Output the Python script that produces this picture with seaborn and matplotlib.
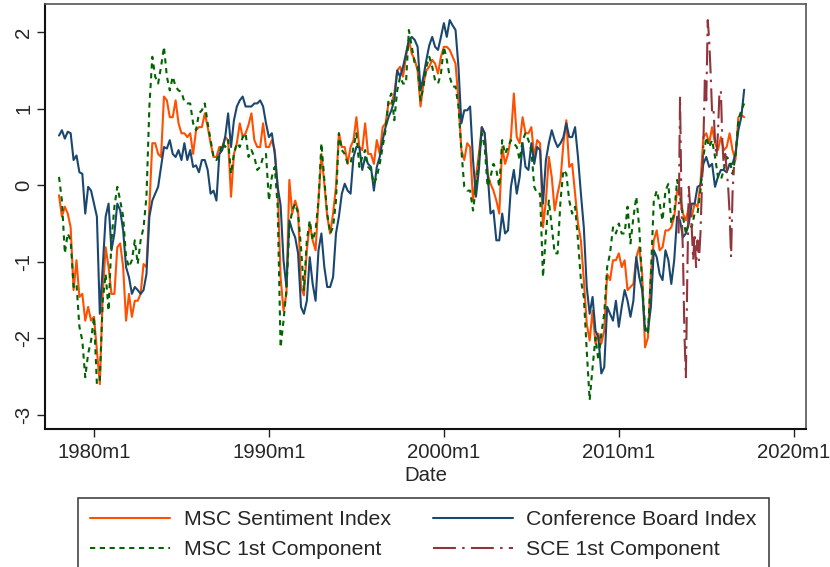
import numpy as np
import pandas as pd
import matplotlib
matplotlib.use("Agg")
import matplotlib.pyplot as plt
import seaborn as sns

# ==========================================
# DATA (every 2nd month from 1978m1)
# ==========================================
START_YEAR = 1978.0
STEP = 2 / 12

msc_sentiment = [
    -0.13, -0.41, -0.28, -0.37, -0.55, -1.37, -0.98, -1.46, -1.42, -1.77, -1.59, -1.77,
    -1.72, -2.16, -2.6, -1.42, -0.81, -1.07, -1.42, -1.42, -0.81, -0.76, -1.07, -1.77,
    -1.42, -1.72, -1.51, -1.51, -1.42, -1.03, -1.07, -0.28, 0.55, 0.55, 0.41, 0.37,
    1.16, 1.11, 0.89, 0.89, 1.11, 0.81,
    0.68, 0.68, 0.63, 0.68, 0.41, 0.72, 0.76, 0.76, 0.94, 0.76, 0.55, 0.37,
    0.37, 0.5, 0.5, 0.63, 0.59, -0.15, 0.41, 0.55, 0.81, 0.63, 0.68, 0.79,
    0.94, 0.59, 0.5, 0.5, 0.81, 0.5, 0.5, 0.59, 0.46, -0.02, -1.2, -1.64,
    -1.42, 0.07, -0.37, -0.2, -0.33, -1.33,
    -1.44, -0.85, -0.5, -0.72, -0.85, -0.2, 0.41, 0.02, -0.41, -0.63, -0.37, -0.02,
    0.68, 0.5, 0.5, 0.28, 0.5, 0.59, 0.89, 0.5, 0.46, 0.81, 0.41, 0.41,
    0.28, 0.59, 0.41, 0.76, 0.81, 1.07, 1.07, 1.2, 1.5, 1.55, 1.42, 1.68,
    1.9, 1.72, 1.64, 1.5,
    1.03, 1.33, 1.5, 1.55, 1.64, 1.59, 1.46, 1.68, 1.81, 1.81, 1.77, 1.68,
    1.59, 1.11, 0.46, 0.33, 0.55, 0.5, -0.2, 0.11, 0.41, 0.76, 0.68, 0.15,
    0.02, -0.07, -0.2, -0.37, 0.5, 0.28, 0.41, 0.63, 1.2, 0.63, 0.55, 0.89,
    0.68, 0.68, 0.76, 0.37, 0.59, 0.55,
    -0.55, -0.2, 0.37, 0.11, -0.33, -0.11, 0.07, 0.55, 0.85, 0.24, 0.28, -0.11,
    -0.5, -0.72, -1.24, -1.81, -2.03, -1.64, -2.07, -1.94, -2.07, -1.9, -1.16, -1.24,
    -0.98, -0.98, -0.89, -1.07, -0.98, -1.37, -1.33, -1.29, -0.94, -0.81, -1.16, -2.12,
    -1.99, -1.16, -0.72, -0.59,
    -0.85, -0.81, -0.59, -0.59, -0.55, -0.41, -0.07, -0.11, -0.37, -0.46, -0.28, -0.41,
    -0.24, -0.28, 0.02, 0.63, 0.68, 0.55, 0.76, 0.55, 0.46, 0.63, 0.46, 0.5,
    0.68, 0.46, 0.33, 0.89, 0.92, 0.89,
]

conf_board = [
    0.65, 0.72, 0.61, 0.70, 0.68, 0.33, 0.39, 0.17, 0.15, -0.37, -0.02, -0.07,
    -0.24, -0.41, -1.68, -1.07, -0.41, -0.24, -0.85, -0.63, -0.24, -0.33, -0.59, -1.07,
    -1.2, -1.42, -1.33, -1.37, -1.42, -1.37, -1.16, -0.41, -0.2, -0.11, -0.02, 0.24,
    0.5, 0.48, 0.59, 0.41, 0.37, 0.46,
    0.33, 0.55, 0.33, 0.46, 0.24, 0.26, 0.17, 0.33, 0.33, 0.2, -0.11, -0.07,
    -0.2, 0.41, 0.46, 0.63, 0.94, 0.5, 0.85, 1.03, 1.11, 1.16, 1.03, 1.03,
    1.03, 1.07, 1.07, 1.11, 1.03, 0.81, 0.63, 0.68, 0.41, -0.02, -0.26, -0.98,
    -1.33, -0.46, -0.59, -0.68, -0.89, -1.59,
    -1.68, -1.51, -0.94, -1.29, -1.51, -0.85, -0.63, -1.07, -1.33, -1.33, -1.2, -0.63,
    -0.41, -0.11, 0.02, -0.07, -0.11, 0.37, 0.5, 0.5, 0.2, 0.37, 0.28, 0.24,
    -0.07, 0.24, 0.37, 0.59, 0.76, 0.89, 0.98, 1.11, 1.5, 1.42, 1.55, 1.72,
    1.9, 1.94, 1.9, 1.81,
    1.24, 1.42, 1.64, 1.83, 1.94, 1.81, 1.77, 1.94, 2.12, 1.94, 2.16, 2.09,
    2.03, 1.55, 0.81, 0.98, 0.98, 1.03, 0.33, -0.15, 0.2, 0.76, 0.68, 0.15,
    -0.37, -0.33, -0.72, -0.72, -0.37, -0.63, -0.59, -0.02, 0.2, -0.11, 0.11, 0.55,
    0.24, 0.2, 0.55, 0.28, 0.5, 0.46,
    -0.24, 0.33, 0.55, 0.72, 0.59, 0.5, 0.55, 0.63, 0.81, 0.63, 0.63, 0.76,
    0.37, -0.11, -0.55, -1.33, -1.68, -1.46, -1.9, -1.99, -2.46, -2.38, -1.59, -1.68,
    -1.77, -1.51, -1.85, -1.59, -1.37, -1.51, -1.72, -1.51, -0.94, -1.2, -1.37, -1.9,
    -1.9, -1.59, -0.85, -0.94,
    -1.16, -1.24, -0.85, -0.98, -1.29, -0.98, -0.41, -0.46, -0.68, -0.63, -0.5, -0.24,
    -0.24, -0.02, 0.0, 0.28, 0.37, 0.24, 0.28, -0.02, 0.11, 0.2, 0.2, 0.17,
    0.28, 0.28, 0.41, 0.72, 0.89, 1.25,
]

msc_component = [
    0.11, -0.2, -0.89, -0.63, -0.72, -1.33, -1.29, -1.85, -2.03, -2.51, -2.2, -2.03,
    -1.72, -2.6, -2.55, -1.51, -1.16, -1.64, -0.72, -0.28, -0.02, -0.2, -0.41, -0.94,
    -1.07, -0.98, -0.72, -1.03, -0.72, -0.55, -0.15, 1.03, 1.68, 1.42, 1.33, 1.55,
    1.81, 1.42, 1.24, 1.42, 1.29, 1.24,
    1.22, 1.09, 1.07, 1.07, 0.81, 0.72, 0.94, 0.98, 1.07, 0.81, 0.59, 0.37,
    0.33, 0.41, 0.55, 0.5, 0.59, 0.15, 0.41, 0.55, 0.5, 0.63, 0.68, 0.37,
    0.46, 0.37, 0.2, 0.24, 0.37, 0.41, -0.2, 0.11, 0.24, -0.28, -2.12, -1.77,
    -1.37, -0.55, -0.33, -0.24, -0.37, -0.81,
    -1.37, -0.72, -0.46, -0.72, -0.59, -0.2, 0.55, 0.07, -0.37, -0.63, -0.55, -0.2,
    0.68, 0.46, 0.41, 0.28, 0.28, 0.5, 0.68, 0.24, 0.37, 0.46, 0.24, 0.2,
    0.02, 0.11, 0.28, 0.5, 0.72, 1.11, 1.2, 0.85, 1.24, 1.42, 1.33, 1.33,
    2.03, 1.81, 1.59, 1.55,
    1.11, 1.29, 1.55, 1.68, 1.55, 1.37, 1.33, 1.46, 1.81, 1.64, 1.42, 1.29,
    1.29, 1.03, 0.46, -0.02, -0.07, -0.07, -0.33, -0.02, 0.33, 0.68, 0.5, -0.02,
    0.11, 0.28, 0.2, -0.02, 0.59, 0.41, 0.5, 0.59, 0.55, 0.5, 0.33, 0.59,
    0.68, 0.59, 0.46, -0.02, -0.11, -0.11,
    -1.2, -0.63, -0.2, -0.55, -0.89, -0.89, -0.2, 0.2, 0.15, -0.2, -0.37, -0.28,
    -0.72, -1.24, -1.46, -2.16, -2.81, -2.38, -1.99, -2.29, -1.94, -1.68, -1.07, -0.89,
    -0.55, -0.63, -0.5, -0.63, -0.63, -0.28, -0.76, -0.42, -0.15, -0.55, -1.29, -1.85,
    -1.94, -1.16, -0.2, -0.07,
    -0.24, -0.46, -0.07, 0.02, -0.5, -0.37, 0.07, -0.15, -0.41, -0.63, -0.5, -0.55,
    -0.37, -0.37, -0.07, 0.37, 0.63, 0.5, 0.59, 0.37, 0.11, 0.07, 0.2, 0.37,
    0.33, 0.15, 0.37, 0.85, 0.98, 1.07,
]

# SCE is monthly, starting 2013m6
SCE_START = 2013 + 5 / 12
sce_component = [
    -0.63, 1.16, -0.28, -0.89, -1.94, -2.51, -1.16, -0.02, -0.28, -0.55, -0.98, -0.63,
    -1.07, -0.72, -0.98, -0.63, -0.02, 0.55, 1.37, 1.11, 2.16, 1.9, 1.46, 0.94,
    0.98, 0.59, 0.37, 0.68, 1.2, 1.24, 0.59, 0.24, 0.41, 0.2, -0.02, -0.37,
    -0.94, -0.11, 0.24,
]

x_ticks = [1980, 1990, 2000, 2010, 2020]
x_tick_labels = ["1980m1", "1990m1", "2000m1", "2010m1", "2020m1"]
y_ticks = [2, 1, 0, -1, -2, -3]

# ==========================================
# STYLE
# ==========================================
sns.set_theme(style="white")
plt.rcParams["font.family"] = ["Liberation Sans", "DejaVu Sans"]
FS_TICK = 14.7
FS_LEG = 15.3

c_orange = "#ff4f00"
c_navy = "#1a476f"
c_green = "#006400"
c_maroon = "#90353b"

dates = START_YEAR + np.arange(len(msc_sentiment)) * STEP
sce_dates = SCE_START + np.arange(len(sce_component)) / 12
main = pd.DataFrame({
    "date": dates,
    "msc": msc_sentiment,
    "cb": conf_board,
    "comp": msc_component,
})
sce = pd.DataFrame({"date": sce_dates, "sce": sce_component})

fig = plt.figure(figsize=(8.3, 5.67), dpi=100)
ax = fig.add_axes([45 / 830, 1 - 428.5 / 567, 761 / 830, 424.5 / 567])

sns.lineplot(data=main, x="date", y="msc", ax=ax, color=c_orange, lw=1.5,
             label="MSC Sentiment Index")
sns.lineplot(data=main, x="date", y="cb", ax=ax, color=c_navy, lw=1.5,
             label="Conference Board Index")
sns.lineplot(data=main, x="date", y="comp", ax=ax, color=c_green, lw=1.5,
             linestyle=(0, (2.5, 2.2)), label="MSC 1st Component")
sns.lineplot(data=sce, x="date", y="sce", ax=ax, color=c_maroon, lw=1.5,
             linestyle=(0, (11, 3, 1.2, 3)), label="SCE 1st Component")

ax.set_xlim(1977.2, 2020.7)
ax.set_ylim(-3.18, 2.37)
ax.set_xticks(x_ticks)
ax.set_xticklabels(x_tick_labels)
ax.set_yticks(y_ticks)
ax.set_yticklabels([str(v) for v in y_ticks], rotation=90, va="center")
ax.tick_params(axis="both", direction="out", length=5.5, width=1.0,
               labelsize=FS_TICK, color="#222222", bottom=True, left=True)
ax.tick_params(axis="x", pad=5)
ax.tick_params(axis="y", pad=3)
ax.set_xlabel("Date", fontsize=FS_TICK, labelpad=3)
ax.set_ylabel("")

for side in ["left", "bottom"]:
    ax.spines[side].set_color("#111111")
    ax.spines[side].set_linewidth(1.5)
for side in ["top", "right"]:
    ax.spines[side].set_color("#555555")
    ax.spines[side].set_linewidth(1.2)

handles, labels = ax.get_legend_handles_labels()
if ax.get_legend() is not None:
    ax.get_legend().remove()
order = [0, 2, 1, 3]
leg = fig.legend(
    [handles[i] for i in order],
    [labels[i] for i in order],
    loc="upper left",
    bbox_to_anchor=(78 / 830, 1 - 498 / 567),
    ncol=2,
    frameon=True,
    fancybox=False,
    edgecolor="#333333",
    fontsize=FS_LEG,
    handlelength=3.76,
    handletextpad=0.63,
    columnspacing=2.0,
    borderpad=0.58,
    labelspacing=0.52,
    borderaxespad=0,
)
leg.get_frame().set_linewidth(1.1)
leg.get_frame().set_alpha(1)

fig.savefig("out.png", dpi=100)
